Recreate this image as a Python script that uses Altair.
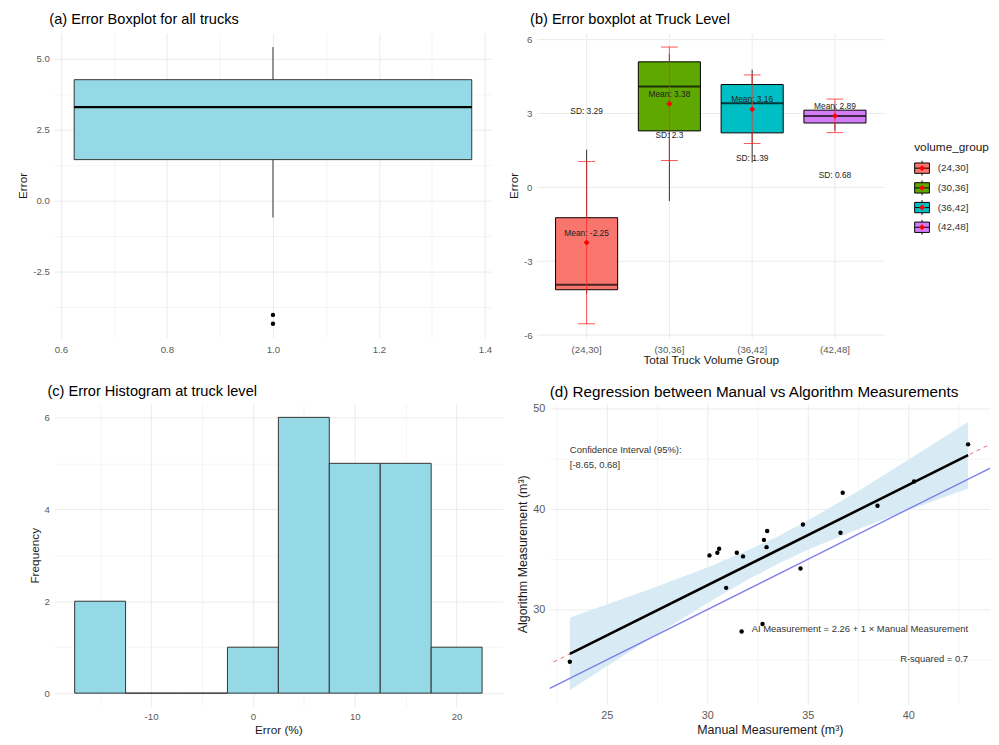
import altair as alt
import pandas as pd

FONT = "Liberation Sans"
LABEL_COLOR = "#5A5A5A"
TITLE_COLOR = "#1A1A1A"
GRID = "#EBEBEB"
LIGHT = "#95D8E6"
KEY_PATH = "M-1,-0.7H1V0.7H-1Z M-1,0H1 M0,-1V-0.7 M0,0.7V1"
DIAMOND = "M-1,-1M1,1M0,-0.4L0.4,0L0,0.4L-0.4,0Z"

# ---------------- (a) Error boxplot for all trucks ----------------
a_box_x = [1.0]
a_lower = [-0.59]
a_q1 = [1.45]
a_median = [3.30]
a_q3 = [4.27]
a_upper = [5.42]
a_outliers = [-4.03, -4.34]

# ---------------- (b) Error boxplot at truck level ----------------
b_groups = ["(24,30]", "(30,36]", "(36,42]", "(42,48]"]
b_lower = [-4.34, -0.56, 1.00, 2.30]
b_q1 = [-4.16, 2.28, 2.20, 2.60]
b_median = [-3.96, 4.08, 3.40, 2.88]
b_q3 = [-1.24, 5.08, 4.16, 3.12]
b_upper = [1.52, 5.40, 4.76, 3.30]
b_mean = [-2.25, 3.38, 3.16, 2.89]
b_sd = [3.29, 2.3, 1.39, 0.68]
b_colors = ["#F8766D", "#5FA800", "#00BFC4", "#D27CF5"]

# ---------------- (c) Error histogram ----------------
c_bin_center = [-15, -10, -5, 0, 5, 10, 15, 20]
c_count = [2, 0, 0, 1, 6, 5, 5, 1]

# ---------------- (d) Regression ----------------
d_manual = [23.16, 30.11, 30.50, 30.59, 30.94, 31.47, 31.78, 31.71, 32.75, 32.82,
            32.98, 32.95, 34.64, 34.76, 36.63, 36.74, 38.47, 40.29, 42.98]
d_algo = [24.80, 35.39, 35.65, 36.05, 32.16, 35.65, 35.29, 27.81, 28.56, 36.93,
          37.81, 36.21, 34.08, 38.46, 37.65, 41.63, 40.33, 42.75, 46.44]
d_band_x = [23.16, 25.0, 27.5, 30.0, 32.0, 33.5, 35.0, 37.5, 40.0, 42.98]
d_band_lo = [21.96, 24.35, 27.54, 30.63, 32.96, 34.53, 35.94, 38.00, 39.87, 42.05]
d_band_hi = [29.22, 30.51, 32.30, 34.19, 35.87, 37.27, 38.86, 41.78, 44.91, 48.67]
d_fit_x = [23.16, 42.98]
d_fit_y = [25.59, 45.36]
d_ext_x = [22.0, 44.2]
d_ext_y = [24.43, 46.58]
d_ident = [20.0, 46.0]
d_note_x = [23.16, 23.16, 42.98, 42.98]
d_note_y = [45.85, 44.38, 28.07, 25.03]
d_note_text = ["Confidence Interval (95%):", "[-8.65, 0.68]",
               "AI Measurement = 2.26 + 1 \u00d7 Manual Measurement", "R-squared = 0.7"]
d_note_side = ["left", "left", "right", "right"]


def axis(values, major, fmt, label_size=9.8, title_size=12, label_pad=5, title_pad=3, **kw):
    return alt.Axis(
        values=values,
        labelExpr=f"({major}) ? replace(format(datum.value, '{fmt}'), '\u2212', '-') : ''",
        grid=True,
        gridColor=GRID,
        gridWidth={"condition": {"test": major, "value": 1.0}, "value": 0.5},
        ticks=False,
        domain=False,
        labelFont=FONT,
        labelFontSize=label_size,
        labelColor=LABEL_COLOR,
        labelPadding=label_pad,
        labelOverlap=False,
        labelFlush=False,
        titleFont=FONT,
        titleFontSize=title_size,
        titleColor=TITLE_COLOR,
        titleFontWeight="normal",
        titlePadding=title_pad,
        **kw,
    )


def title(text, size=14.8, dx=-6, offset=6):
    return alt.TitleParams(text=text, anchor="start", frame="group", font=FONT, fontSize=size,
                           fontWeight="normal", color="black", baseline="bottom",
                           offset=offset, dx=dx)


def legend(title_text, symbol_type, **kw):
    return alt.Legend(title=title_text, orient="none", legendX=873, legendY=111,
                      symbolType=symbol_type, symbolSize=225, symbolStrokeWidth=1,
                      labelFont=FONT, labelFontSize=10,
                      titleFont=FONT, titleFontSize=12, titleFontWeight="normal",
                      titleColor=TITLE_COLOR, rowPadding=0, titlePadding=6,
                      labelOffset=8, padding=0, **kw)


# ---------- chart (a) ----------
a_df = pd.DataFrame({"x": a_box_x, "lower": a_lower, "q1": a_q1, "median": a_median,
                     "q3": a_q3, "upper": a_upper})
a_out = pd.DataFrame({"x": [a_box_x[0]] * len(a_outliers), "y": a_outliers})
a_xs = alt.Scale(domain=[0.5875, 1.4125], nice=False, zero=False)
a_ys = alt.Scale(domain=[-4.83, 5.91], nice=False, zero=False)
a_base = alt.Chart(a_df).transform_calculate(x1="datum.x - 0.375", x2="datum.x + 0.375")
a_wh = a_base.mark_rule(color="#333333", strokeWidth=1).encode(
    x=alt.X("x:Q", scale=a_xs, title=None,
            axis=axis([0.6, 0.7, 0.8, 0.9, 1.0, 1.1, 1.2, 1.3, 1.4],
                      "abs(datum.value*5 - round(datum.value*5)) < 0.001", ".1f", label_pad=7)),
    y=alt.Y("lower:Q", scale=a_ys, title="Error",
            axis=axis([-3.75, -2.5, -1.25, 0, 1.25, 2.5, 3.75, 5.0],
                      "abs(datum.value/2.5 - round(datum.value/2.5)) < 0.001", ".1f")),
    y2="upper:Q",
)
a_box = a_base.mark_rect(fill=LIGHT, stroke="#333333", strokeWidth=1).encode(
    x="x1:Q", x2="x2:Q", y="q1:Q", y2="q3:Q")
a_med = a_base.mark_rule(color="black", strokeWidth=2.2).encode(x="x1:Q", x2="x2:Q", y="median:Q")
a_pts = alt.Chart(a_out).mark_circle(color="black", size=20, opacity=1).encode(x="x:Q", y="y:Q")
chart_a = alt.layer(a_wh, a_box, a_med, a_pts).properties(
    width=444, height=309, title=title("(a) Error Boxplot for all trucks", dx=-5, offset=-8))

# ---------- chart (b) ----------
b_keys = [g + " " for g in b_groups]
b_df = pd.DataFrame({"group": b_groups, "key": b_keys, "lower": b_lower, "q1": b_q1,
                     "median": b_median, "q3": b_q3, "upper": b_upper,
                     "mean": b_mean, "sd": b_sd})
b_base = alt.Chart(b_df).transform_calculate(
    lo="datum.mean - datum.sd", hi="datum.mean + datum.sd",
    mean_label="'Mean: ' + datum.mean", sd_label="'SD: ' + datum.sd")
b_xs = alt.Scale(type="band", domain=b_groups, paddingInner=0.25, paddingOuter=0.225)
b_ys = alt.Scale(domain=[-6.1, 6.24], nice=False, zero=False)
bx = alt.X("group:N", scale=b_xs, sort=b_groups, title="Total Truck Volume Group",
           axis=alt.Axis(grid=True, gridColor=GRID, gridWidth=1, ticks=False, domain=False,
                         bandPosition=0.5, labelAngle=0, labelFont=FONT, labelFontSize=9.8,
                         labelColor=LABEL_COLOR, labelPadding=7, titleFont=FONT, titleFontSize=12,
                         titleColor=TITLE_COLOR, titleFontWeight="normal", titlePadding=1))
bxs = alt.X("group:N", sort=b_groups)
b_wh = b_base.mark_rule(color="#333333", strokeWidth=1).encode(
    x=bx,
    y=alt.Y("lower:Q", scale=b_ys, title="Error",
            axis=axis([-6, -4.5, -3, -1.5, 0, 1.5, 3, 4.5, 6],
                      "abs(datum.value/3 - round(datum.value/3)) < 0.001", "d")),
    y2="upper:Q",
)
b_box = b_base.mark_bar(stroke="black", strokeWidth=1, opacity=1).encode(
    x=bxs, y="q1:Q", y2="q3:Q",
    fill=alt.Fill("group:N", scale=alt.Scale(domain=b_groups, range=b_colors),
                  legend=legend("volume_group", KEY_PATH, labelColor="#333333",
                                symbolStrokeColor="black")),
)
b_med = b_base.mark_tick(color="black", thickness=2, size=63, orient="horizontal").encode(
    x=bxs, y="median:Q")
b_err = b_base.mark_rule(color="#FF2A2A", strokeWidth=1, opacity=0.8).encode(
    x=bxs, y="lo:Q", y2="hi:Q")
b_cap1 = b_base.mark_tick(color="#FF2A2A", thickness=1, size=17, orient="horizontal",
                          opacity=0.8).encode(x=bxs, y="lo:Q")
b_cap2 = b_base.mark_tick(color="#FF2A2A", thickness=1, size=17, orient="horizontal",
                          opacity=0.8).encode(x=bxs, y="hi:Q")
b_pt = b_base.mark_point(filled=True, color="red", size=225, opacity=1).encode(
    x=bxs, y="mean:Q",
    shape=alt.Shape("key:N", scale=alt.Scale(domain=b_keys, range=[DIAMOND] * 4),
                    legend=legend(" ", DIAMOND, labelExpr="''", symbolFillColor="red",
                                  symbolStrokeColor="red")),
)
b_mt = b_base.mark_text(font=FONT, fontSize=8.5, dy=-10, color="#222222").encode(
    x=bxs, y="mean:Q", text="mean_label:N")
b_st = b_base.mark_text(font=FONT, fontSize=8.5, dy=5, color="#222222").encode(
    x=bxs, y="sd:Q", text="sd_label:N")
chart_b = alt.layer(b_wh, b_box, b_med, b_err, b_cap1, b_cap2, b_pt, b_mt, b_st).properties(
    width=353, height=309, title=title("(b) Error boxplot at Truck Level", dx=-7, offset=-8))

# ---------- chart (c) ----------
c_df = pd.DataFrame({"center": c_bin_center, "count": c_count})
chart_c = alt.Chart(c_df).transform_calculate(
    lo="datum.center - 2.5", hi="datum.center + 2.5"
).mark_rect(fill=LIGHT, stroke="#333333", strokeWidth=1).encode(
    x=alt.X("lo:Q", scale=alt.Scale(domain=[-19.5, 24.5], nice=False, zero=False), title="Error (%)",
            axis=axis([-15, -10, -5, 0, 5, 10, 15, 20], "datum.value % 10 == 0", "d",
                      label_pad=5, title_pad=3)),
    x2="hi:Q",
    y=alt.Y("count:Q", scale=alt.Scale(domain=[-0.3, 6.3], nice=False, zero=False),
            title="Frequency",
            axis=axis([0, 1, 2, 3, 4, 5, 6], "datum.value % 2 == 0", "d")),
    y2=alt.datum(0),
).properties(width=455, height=308,
             title=title("(c) Error Histogram at truck level", dx=-7, offset=-10))

# ---------- chart (d) ----------
d_xs = alt.Scale(domain=[22.16, 44.07], nice=False, zero=False)
d_ys = alt.Scale(domain=[20.6, 50.5], nice=False, zero=False)
band_df = pd.DataFrame({"x": d_band_x, "lo": d_band_lo, "hi": d_band_hi})
d_band = alt.Chart(band_df).mark_area(color="#D8EBF5", opacity=1).encode(
    x=alt.X("x:Q", scale=d_xs, title="Manual Measurement (m\u00b3)",
            axis=axis([22.5, 25, 27.5, 30, 32.5, 35, 37.5, 40, 42.5], "datum.value % 5 == 0", "d",
                      label_size=11, title_size=12.6, label_pad=6, title_pad=3)),
    y=alt.Y("lo:Q", scale=d_ys, title="Algorithm Measurement (m\u00b3)",
            axis=axis([25, 30, 35, 40, 45, 50], "datum.value % 10 == 0", "d",
                      label_size=11, title_size=12.6)),
    y2="hi:Q",
)
ident_df = pd.DataFrame({"x": d_ident, "y": d_ident})
d_ident_line = alt.Chart(ident_df).mark_line(color="#7878F2", strokeWidth=1.3, clip=True).encode(
    x="x:Q", y="y:Q")
ext_df = pd.DataFrame({"x": d_ext_x, "y": d_ext_y})
d_ext = alt.Chart(ext_df).mark_line(color="#F06A6A", strokeWidth=1, strokeDash=[4, 4],
                                    clip=True).encode(x="x:Q", y="y:Q")
fit_df = pd.DataFrame({"x": d_fit_x, "y": d_fit_y})
d_fit = alt.Chart(fit_df).mark_line(color="black", strokeWidth=2.6).encode(x="x:Q", y="y:Q")
pts_df = pd.DataFrame({"x": d_manual, "y": d_algo})
d_pts = alt.Chart(pts_df).mark_circle(color="black", size=20, opacity=1).encode(x="x:Q", y="y:Q")
note_df = pd.DataFrame({"x": d_note_x, "y": d_note_y, "text": d_note_text, "side": d_note_side})
d_note_l = alt.Chart(note_df).transform_filter("datum.side == 'left'").mark_text(
    font=FONT, fontSize=9.6, align="left", baseline="middle", color="#333333").encode(
    x="x:Q", y="y:Q", text="text:N")
d_note_r = alt.Chart(note_df).transform_filter("datum.side == 'right'").mark_text(
    font=FONT, fontSize=9.6, align="right", baseline="middle", color="#333333").encode(
    x="x:Q", y="y:Q", text="text:N")
chart_d = alt.layer(d_band, d_ident_line, d_ext, d_fit, d_pts, d_note_l, d_note_r).properties(
    width=447, height=305,
    title=title("(d) Regression between Manual vs Algorithm Measurements", size=15.5, dx=0,
                offset=-13))

row1 = alt.hconcat(chart_a, chart_b, spacing=14).resolve_scale(x="independent", y="independent")
row2 = alt.hconcat(chart_c, chart_d, spacing=13).resolve_scale(x="independent", y="independent")
chart = alt.vconcat(row1, row2, spacing=16).resolve_scale(x="independent", y="independent").properties(
    padding={"left": 8, "top": -3, "right": 0, "bottom": 0},
    background="white",
).configure_view(stroke="transparent")

chart.save("out.html", embed_options={"renderer": "svg", "actions": False})
